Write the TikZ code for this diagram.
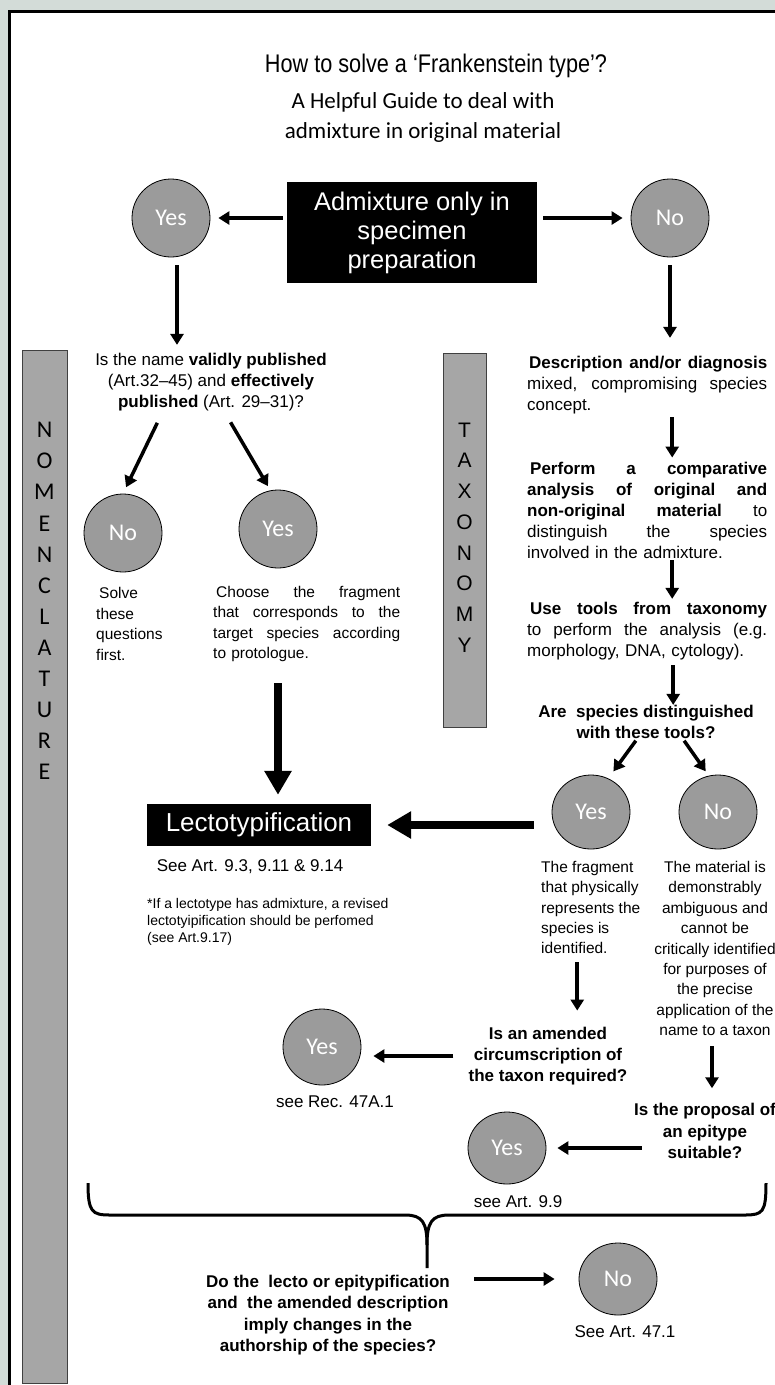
\documentclass[tikz,border=0pt]{standalone}
\usepackage{fontspec}
\setmainfont{Liberation Sans}
\newfontfamily\carlitofont{Carlito}
\newfontfamily\strettofont{Liberation Sans}[FakeStretch=0.85]
\usepackage{tikz}
\usetikzlibrary{shapes.geometric, arrows.meta, positioning, calc}
\usepackage{xcolor}
\definecolor{sfondo}{HTML}{D3DCD8}
\definecolor{grigio}{HTML}{9B9B9B}
\definecolor{barra}{HTML}{A6A6A6}
\newcommand{\fsz}[2]{\fontsize{#1}{#2}\selectfont}
\newcommand{\riga}[2][240pt]{\makebox[#1][s]{\spaceskip=0pt\xspaceskip=0pt #2}}

\begin{document}
\begin{tikzpicture}[x=1pt, y=-1pt,
    sino/.style={ellipse, draw=black, line width=0.8pt, fill=grigio, minimum width=78pt, minimum height=78pt, inner sep=0pt, text=white, font=\carlitofont\fsz{24}{28}},
    freccia/.style={-{Triangle[width=13pt,length=11pt]}, line width=3.5pt},
    freccione/.style={-{Triangle[width=26pt,length=24pt]}, line width=8pt},
    domanda/.style={align=center, inner sep=0pt, font=\bfseries\fsz{17}{21.3}},
    testo/.style={inner sep=0pt, font=\fsz{17}{21}},
    nota/.style={inner sep=0pt, font=\fsz{15.5}{20.4}},
    scatola/.style={fill=black, text=white, inner sep=0pt, align=center},
    colonna/.style={draw=black!75, line width=1.2pt, fill=barra, inner sep=0pt, anchor=north west}]
        \useasboundingbox (0,0) rectangle (775,1385);
        % Cornice
        \fill[sfondo] (0,0) rectangle (775,1385);
        \fill[white] (9.5,11.5) rectangle (775,1385);
        \draw[line width=3pt] (9.5,1385) -- (9.5,11.5) -- (775,11.5);

        % Titolo
        \node[font=\strettofont\fsz{25.5}{30}] (titolo) at (436,66) {How to solve a ‘Frankenstein type’?};
        \node[font=\carlitofont\fsz{23}{30}, align=center] (sottotitolo) at (423,117) {A Helpful Guide to deal with\\admixture in original material};

        % Domanda iniziale
        \node[scatola, minimum width=250pt, minimum height=101pt, font=\fsz{25.5}{29}] (admix) at (412,232.5) {Admixture only in\\specimen\\preparation};
        \node[sino] (siA) at (171,218) {Yes};
        \node[sino] (noA) at (670,218) {No};

        % Colonne laterali
        \node[colonna, minimum width=45pt, minimum height=1033pt] (nomen) at (22,350) {};
        \foreach \l [count=\i from 0] in {N,O,M,E,N,C,L,A,T,U,R,E}
            \node[inner sep=0pt, font=\carlitofont\fsz{24}{24}] (nom\i) at (44.5,{430+31.1*\i}) {\l};
        \node[colonna, minimum width=43pt, minimum height=374pt] (taxon) at (443,353) {};
        \foreach \l [count=\i from 0] in {T,A,X,O,N,O,M,Y}
            \node[inner sep=0pt, font=\fsz{21}{21}] (tax\i) at (464.5,{430+30.7*\i}) {\l};

        % Ramo nomenclatura
        \node[testo, align=center] (nome) at (211,382) {Is the name \textbf{validly published}\\(Art.32–45) and \textbf{effectively}\\\textbf{published} (Art. 29–31)?};
        \node[sino] (noB) at (123,533) {No};
        \node[sino] (siB) at (278,529) {Yes};
        \node[nota, align=left, anchor=west] (risolvi) at (96,624) {\hspace*{3pt}Solve\\these\\questions\\first.};
        \node[nota, text width=187pt, align=left, anchor=west] (scegli) at (213,624) {\riga[187pt]{\hspace*{3pt}Choose the fragment}\\\riga[187pt]{that corresponds to the}\\\riga[187pt]{target species according}\\to protologue.};
        \node[scatola, minimum width=224pt, minimum height=42pt, font=\fsz{26}{26}] (lecto) at (259,825) {Lectotypification};
        \node[testo] (art93) at (250,867) {See Art. 9.3, 9.11 \& 9.14};
        \node[inner sep=0pt, font=\fsz{14}{17}, align=left, anchor=west] (asterisco) at (147,922) {*If a lectotype has admixture, a revised\\lectotyipification should be perfomed\\(see Art.9.17)};

        % Ramo tassonomia
        \node[testo, text width=240pt, align=left, anchor=west] (descr) at (527,385) {\riga{\hspace*{2pt}\textbf{Description and/or diagnosis}}\\\riga{mixed, compromising species}\\concept.};
        \node[testo, text width=240pt, align=left, anchor=west] (confronto) at (527,510) {\riga{\hspace*{3pt}\textbf{Perform a comparative}}\\\riga{\textbf{analysis of original and}}\\\riga{\textbf{non-original material} to}\\\riga{distinguish the species}\\involved in the admixture.};
        \node[testo, text width=240pt, align=left, anchor=west] (strumenti) at (527,631) {\riga{\hspace*{3pt}\textbf{Use tools from taxonomy}}\\\riga{to perform the analysis (e.g.}\\morphology, DNA, cytology).};
        \node[domanda] (distinte) at (646,722) {Are\ \ species distinguished\\with these tools?};
        \node[sino, minimum height=74pt] (siC) at (591,812) {Yes};
        \node[sino, minimum height=74pt] (noC) at (718,812) {No};
        \node[nota, align=left, anchor=west] (frammento) at (541,907.5) {The fragment\\that physically\\represents the\\species is\\identified.};
        \node[nota, align=center] (materiale) at (715,948.5) {The material is\\demonstrably\\ambiguous and\\cannot be\\critically identified\\for purposes of\\the precise\\application of the\\name to a taxon};
        \node[domanda] (emendata) at (548,1056) {Is an amended\\circumscription of\\the taxon required?};
        \node[sino, minimum height=76pt] (siD) at (322,1047) {Yes};
        \node[testo] (rec) at (335,1102) {see Rec. 47A.1};
        \node[domanda] (epitipo) at (705,1131) {Is the proposal of\\an epitype\\suitable?};
        \node[sino, minimum height=72pt] (siE) at (507,1148) {Yes};
        \node[testo] (art99) at (518,1202) {see Art. 9.9};

        % Parentesi e domanda finale
        \draw[line width=3pt] (88,1183) .. controls (88,1212) and (92,1215) .. (110,1215) -- (405,1215) .. controls (422,1215) and (427,1222) .. (427,1245) -- (427,1268);
        \draw[line width=3pt] (427,1245) .. controls (427,1222) and (432,1215) .. (449,1215) -- (745,1215) .. controls (763,1215) and (766,1212) .. (766,1183);
        \node[domanda] (autore) at (328,1315) {Do the\ \ lecto or epitypification\\and\ \ the amended description\\imply changes in the\\authorship of the species?};
        \node[sino, minimum height=72pt] (noF) at (618,1279) {No};
        \node[testo] (art471) at (625,1332) {See Art. 47.1};

        % Frecce
        \draw[freccia, shorten <=4pt, shorten >=8pt] (siA.east -| admix.west) -- (siA.east);
        \draw[freccia, shorten <=6pt, shorten >=8pt] (noA.west -| admix.east) -- (noA.west);
        \draw[freccia, shorten <=8pt, shorten >=8pt] ([xshift=6pt]siA.south) -- ([xshift=6pt]siA.south |- nome.north);
        \draw[freccia, shorten <=8pt, shorten >=18pt] (noA.south) -- (noA.south |- descr.north);
        \draw[freccia, shorten <=13pt, shorten >=7pt] ([xshift=-48pt]nome.south) -- (noB.north);
        \draw[freccia, shorten <=13pt, shorten >=4pt] ([xshift=13pt]nome.south) -- ([xshift=-8pt]siB.north);
        \draw[freccione, shorten <=21pt, shorten >=9pt] (siB.south |- scegli.south) -- (siB.south |- lecto.north);
        \draw[freccia, shorten <=3pt, shorten >=4pt] ([xshift=25pt]descr.south) -- ([xshift=25pt]descr.south |- confronto.north);
        \draw[freccia, shorten <=2pt, shorten >=3pt] ([xshift=25pt]confronto.south) -- ([xshift=25pt]confronto.south |- strumenti.north);
        \draw[freccia, shorten <=5pt] ([xshift=26pt]strumenti.south) -- ([xshift=26pt]strumenti.south |- distinte.north);
        \draw[freccia, shorten <=2pt, shorten >=4pt] ([xshift=-9pt]distinte.south) -- ([xshift=20pt]siC.north);
        \draw[freccia, shorten <=2pt, shorten >=4pt] ([xshift=37pt]distinte.south) -- ([xshift=-10pt]noC.north);
        \draw[freccione, shorten <=18pt, shorten >=16pt] (siC.west |- lecto.east) -- (lecto.east);
        \draw[freccia, shorten <=8pt, shorten >=16pt] ([xshift=-13.5pt]frammento.south) -- ([xshift=-13.5pt]frammento.south |- emendata.north);
        \draw[freccia, shorten <=10pt, shorten >=15pt] ([xshift=-3pt]materiale.south) -- ([xshift=-3pt]materiale.south |- epitipo.north);
        \draw[freccia, shorten <=15pt, shorten >=12pt] (emendata.west) -- (emendata.west -| siD.east);
        \draw[freccia, shorten >=11pt] ($(epitipo.west |- siE.east)+(8,0)$) -- (siE.east);
        \draw[freccia, shorten <=24pt, shorten >=24pt] (autore.east |- noF.west) -- (noF.west);
    \end{tikzpicture}
\end{document}
